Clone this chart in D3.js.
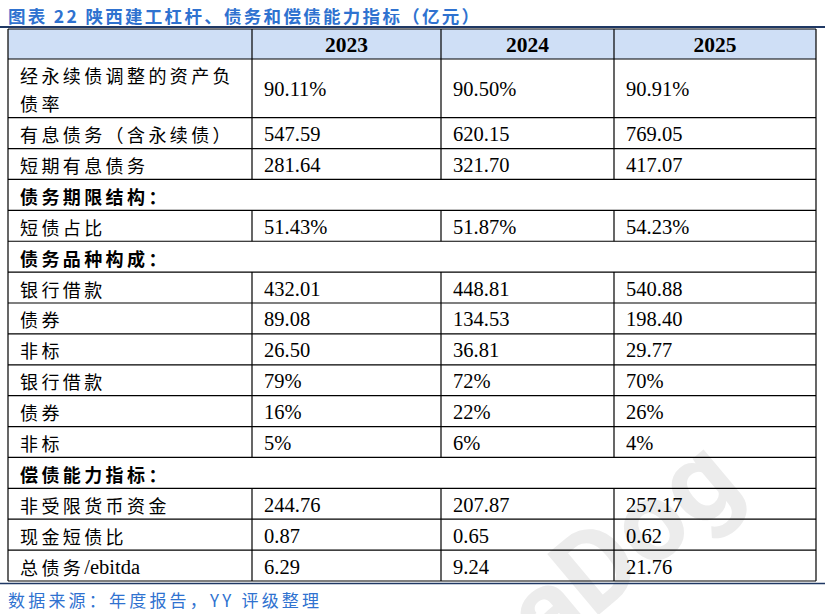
<!DOCTYPE html>
<html lang="zh">

<head>
    <meta charset="UTF-8">
    <title>陕西建工杠杆、债务和偿债能力指标</title>
    <script src="https://cdn.jsdelivr.net/npm/d3@7"></script>
    <style>
        body { margin: 0; background: #fff; }
        .cn { font-family: "Noto Sans CJK SC", sans-serif; }
        .num { font-family: "Liberation Serif", "Times New Roman", serif; }
    </style>
</head>

<body>
    <svg width="825" height="614"></svg>

    <script>
        // table data
        const title = "图表 22 陕西建工杠杆、债务和偿债能力指标（亿元）";
        const source = "数据来源：年度报告，YY 评级整理";
        const years = ["2023", "2024", "2025"];
        const rowLabels = [
            ["经永续债调整的资产负", "债率"],
            ["有息债务（含永续债）"],
            ["短期有息债务"],
            ["债务期限结构："],
            ["短债占比"],
            ["债务品种构成："],
            ["银行借款"],
            ["债券"],
            ["非标"],
            ["银行借款"],
            ["债券"],
            ["非标"],
            ["偿债能力指标："],
            ["非受限货币资金"],
            ["现金短债比"],
            ["总债务/ebitda"]
        ];
        // section rows have no values
        const isSection = [false, false, false, true, false, true, false, false, false, false, false, false, true, false, false, false];
        const values2023 = ["90.11%", "547.59", "281.64", "", "51.43%", "", "432.01", "89.08", "26.50", "79%", "16%", "5%", "", "244.76", "0.87", "6.29"];
        const values2024 = ["90.50%", "620.15", "321.70", "", "51.87%", "", "448.81", "134.53", "36.81", "72%", "22%", "6%", "", "207.87", "0.65", "9.24"];
        const values2025 = ["90.91%", "769.05", "417.07", "", "54.23%", "", "540.88", "198.40", "29.77", "70%", "26%", "4%", "", "257.17", "0.62", "21.76"];
        const allValues = [values2023, values2024, values2025];

        const svg = d3.select("svg");

        // column edges: label col + 3 year cols
        const colEdges = [8, 252, 441, 614, 816];
        const headTop = 29, headBottom = 59, tableBottom = 581;

        // row heights in units (first row has two lines)
        const units = rowLabels.map(d => d.length === 2 ? 1.9 : 1);
        const cum = [0];
        units.forEach(u => cum.push(cum[cum.length - 1] + u));
        const y = d3.scaleLinear().domain([0, cum[cum.length - 1]]).range([headBottom, tableBottom]);

        // watermark
        svg.append("text")
            .attr("transform", "translate(622,545) rotate(-40)")
            .attr("text-anchor", "middle")
            .attr("dominant-baseline", "central")
            .attr("font-family", "Roboto, sans-serif")
            .attr("font-weight", "bold")
            .attr("font-size", 112)
            .attr("fill", "#ececec")
            .text("aDog");

        // title
        svg.append("text")
            .attr("class", "cn")
            .attr("x", 8).attr("y", 15)
            .attr("dominant-baseline", "central")
            .attr("font-size", 17.5)
            .attr("letter-spacing", 2.3)
            .attr("font-weight", "bold")
            .attr("fill", "#2f72d0")
            .text(title);

        svg.append("line")
            .attr("x1", 0).attr("x2", 825).attr("y1", 27).attr("y2", 27)
            .attr("stroke", "#1f3864").attr("stroke-width", 2);

        // header
        svg.append("rect")
            .attr("x", colEdges[0]).attr("y", headTop)
            .attr("width", colEdges[4] - colEdges[0]).attr("height", headBottom - headTop)
            .attr("fill", "#cfdff6");

        svg.selectAll(".year").data(years).join("text")
            .attr("class", "num year")
            .attr("x", (d, i) => (colEdges[i + 1] + colEdges[i + 2]) / 2)
            .attr("y", (headTop + headBottom) / 2 + 1)
            .attr("text-anchor", "middle")
            .attr("dominant-baseline", "central")
            .attr("font-size", 21.5)
            .attr("font-weight", "bold")
            .text(d => d);

        // rows
        const rows = svg.selectAll(".row").data(rowLabels).join("g").attr("class", "row");

        rows.each(function (lab, i) {
            const g = d3.select(this);
            const top = y(cum[i]), bot = y(cum[i + 1]), mid = (top + bot) / 2;
            const lineH = 28;
            lab.forEach((t, k) => {
                const txt = g.append("text")
                    .attr("class", "cn")
                    .attr("x", colEdges[0] + 12)
                    .attr("y", mid + (k - (lab.length - 1) / 2) * lineH + 1)
                    .attr("dominant-baseline", "central")
                    .attr("font-size", 18)
                    .attr("font-weight", isSection[i] ? "bold" : "normal");
                // split CJK and latin runs: latin in serif, no extra spacing
                t.match(/[\x20-\x7e]+|[^\x20-\x7e]+/g).forEach(part => {
                    const latin = /^[\x20-\x7e]+$/.test(part);
                    txt.append("tspan")
                        .attr("class", latin ? "num" : "cn")
                        .attr("font-size", latin ? 20.5 : 18)
                        .attr("letter-spacing", latin ? 0 : 3.4)
                        .text(part);
                });
            });
            if (!isSection[i]) {
                allValues.forEach((vals, j) => {
                    g.append("text")
                        .attr("class", "num")
                        .attr("x", colEdges[j + 1] + 12)
                        .attr("y", mid + 1)
                        .attr("dominant-baseline", "central")
                        .attr("font-size", 20.5)
                        .text(vals[i]);
                });
            }
        });

        // grid lines
        const grid = svg.append("g").attr("stroke", "#000").attr("stroke-width", 1.2);
        // horizontal
        const hLines = [headTop, headBottom].concat(cum.slice(1, -1).map(c => y(c)), [tableBottom]);
        grid.selectAll(".h").data(hLines).join("line")
            .attr("x1", colEdges[0]).attr("x2", colEdges[4])
            .attr("y1", d => d).attr("y2", d => d);
        // outer verticals
        grid.selectAll(".v").data([colEdges[0], colEdges[4]]).join("line")
            .attr("x1", d => d).attr("x2", d => d)
            .attr("y1", headTop).attr("y2", tableBottom);
        // inner verticals, broken at section rows
        rowLabels.forEach((lab, i) => {
            if (isSection[i]) return;
            colEdges.slice(1, 4).forEach(x => {
                grid.append("line")
                    .attr("x1", x).attr("x2", x)
                    .attr("y1", y(cum[i])).attr("y2", y(cum[i + 1]));
            });
        });
        colEdges.slice(1, 4).forEach(x => {
            grid.append("line").attr("x1", x).attr("x2", x).attr("y1", headTop).attr("y2", headBottom);
        });

        svg.append("line")
            .attr("x1", 0).attr("x2", 825).attr("y1", 583.5).attr("y2", 583.5)
            .attr("stroke", "#1f3864").attr("stroke-width", 1.5);

        // source
        svg.append("text")
            .attr("class", "cn")
            .attr("x", 8).attr("y", 599)
            .attr("dominant-baseline", "central")
            .attr("font-size", 17)
            .attr("letter-spacing", 3.2)
            .attr("fill", "#2f72d0")
            .text(source);
    </script>
</body>

</html>
